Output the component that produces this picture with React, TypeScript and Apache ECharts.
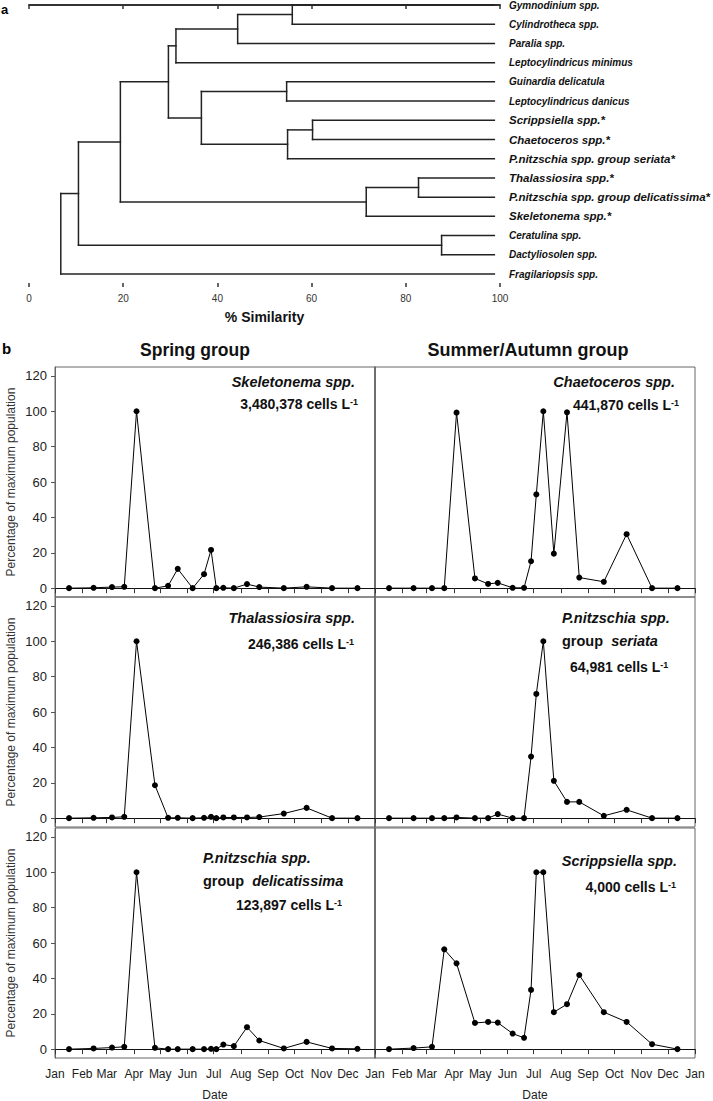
import React, { useEffect, useRef } from 'react';
import * as echarts from 'echarts';

// ---------- Part a: dendrogram ----------
const leafNames = [
  'Gymnodinium spp.', 'Cylindrotheca spp.', 'Paralia spp.', 'Leptocylindricus minimus',
  'Guinardia delicatula', 'Leptocylindricus danicus', 'Scrippsiella spp.*', 'Chaetoceros spp.*',
  'P.nitzschia spp. group seriata*', 'Thalassiosira spp.*', 'P.nitzschia spp. group delicatissima*',
  'Skeletonema spp.*', 'Ceratulina spp.', 'Dactyliosolen spp.', 'Fragilariopsis spp.',
];
// [left node, right node, % similarity]; nodes 0-14 are leaves, 15+ are these merges in order
const merges: [number, number, number][] = [
  [0, 1, 55.9], [15, 2, 44.3], [16, 3, 31.2], [4, 5, 54.7], [6, 7, 60.2], [19, 8, 54.9],
  [18, 20, 36.6], [17, 21, 29.6], [9, 10, 82.7], [23, 11, 71.6], [22, 24, 19.4],
  [12, 13, 87.6], [25, 26, 10.5], [27, 14, 6.75],
];
const LEAF_END = 98.8;

// ---------- Part b: time series ----------
const sampleDays = [16, 44, 65, 79, 93, 114, 129, 140, 157, 170, 178, 184, 192, 204, 219, 233, 261, 287, 316, 345];
const monthNames = ['Jan', 'Feb', 'Mar', 'Apr', 'May', 'Jun', 'Jul', 'Aug', 'Sep', 'Oct', 'Nov', 'Dec', 'Jan'];
const monthStarts = [0, 31, 59, 90, 120, 151, 181, 212, 243, 273, 304, 334, 365];
const yTicks = [0, 20, 40, 60, 80, 100, 120];

const skeletonema = [0, 0.2, 0.6, 0.75, 100, 0, 1.3, 10.9, 0, 7.9, 21.6, 0, 0.2, 0, 2.3, 0.6, 0, 0.75, 0, 0];
const chaetoceros = [0, 0, 0, 0, 99.2, 5.5, 2.4, 3.0, 0.2, 0.2, 15.2, 53, 100, 19.5, 99.4, 6.0, 3.6, 30.5, 0, 0];
const thalassiosira = [0, 0.2, 0.4, 0.75, 100, 18.6, 0.2, 0.2, 0, 0.2, 0.75, 0, 0.4, 0.4, 0.4, 0.6, 2.6, 5.8, 0, 0];
const seriata = [0, 0, 0, 0, 0.4, 0, 0, 2.3, 0, 0, 34.8, 70.2, 100, 21.1, 9.2, 9.2, 1.3, 4.7, 0, 0];
const delicatissima = [0, 0.4, 0.9, 1.3, 100, 0.75, 0, 0, 0, 0, 0.2, 0, 2.6, 1.7, 12.4, 4.9, 0.4, 4.1, 0.4, 0.2];
const scrippsiella = [0, 0.6, 1.3, 56.4, 48.5, 14.8, 15.4, 15.0, 8.8, 6.4, 33.5, 100, 100, 20.9, 25.4, 41.9, 20.9, 15.4, 2.8, 0];

const maxCells = ['3,480,378', '441,870', '246,386', '64,981', '123,897', '4,000'];
const columnTitles = ['Spring group', 'Summer/Autumn group'];

const SANS = '"Liberation Sans", Arial, sans-serif';

const colLeft = [55, 375];
const rowTop = [367, 597, 828];
const PW = 320;
const PH = 230;

function buildDendroSegments() {
  const pos: { x: number; y: number }[] = leafNames.map((_, i) => ({ x: LEAF_END, y: i }));
  const segs: number[][] = [];
  merges.forEach(([l, r, sim]) => {
    const a = pos[l];
    const b = pos[r];
    segs.push([a.x, a.y, sim, a.y]);
    segs.push([b.x, b.y, sim, b.y]);
    segs.push([sim, a.y, sim, b.y]);
    pos.push({ x: sim, y: (a.y + b.y) / 2 });
  });
  return segs;
}

function cellsText(x: number, y: number, count: string, align: string) {
  return {
    type: 'text',
    x,
    y,
    style: {
      text: `{n|${count} cells L}{s|-1}`,
      align,
      verticalAlign: 'middle',
      rich: {
        n: { fontFamily: SANS, fontWeight: 'bold', fontSize: 14, fill: '#111' },
        s: { fontFamily: SANS, fontWeight: 'bold', fontSize: 9, fill: '#111', verticalAlign: 'top' },
      },
    },
  };
}

function nameText(x: number, y: number, text: string, align: string) {
  return {
    type: 'text',
    x,
    y,
    style: {
      text,
      align,
      verticalAlign: 'middle',
      fontFamily: SANS,
      fontWeight: 'bold',
      fontStyle: 'italic',
      fontSize: 14.5,
      fill: '#111',
    },
  };
}

function groupText(x: number, y: number, word: string) {
  return {
    type: 'text',
    x,
    y,
    style: {
      text: `{g|group  }{i|${word}}`,
      align: 'left',
      verticalAlign: 'middle',
      rich: {
        g: { fontFamily: SANS, fontWeight: 'bold', fontSize: 14.5, fill: '#111' },
        i: { fontFamily: SANS, fontWeight: 'bold', fontStyle: 'italic', fontSize: 14.5, fill: '#111' },
      },
    },
  };
}

export default function App() {
  const ref = useRef<HTMLDivElement>(null);
  useEffect(() => {
    if (!ref.current) return;
    const chart = echarts.init(ref.current, undefined, { renderer: 'svg' });

    const panels = [
      { values: skeletonema, col: 0, row: 0 },
      { values: chaetoceros, col: 1, row: 0 },
      { values: thalassiosira, col: 0, row: 1 },
      { values: seriata, col: 1, row: 1 },
      { values: delicatissima, col: 0, row: 2 },
      { values: scrippsiella, col: 1, row: 2 },
    ];

    const grids: any[] = [
      { left: 29, top: 5, width: 471, height: 269, outerBoundsMode: 'none' },
    ];
    const xAxes: any[] = [
      {
        gridIndex: 0, type: 'value', min: 0, max: 100, interval: 20, position: 'bottom', offset: 13,
        axisLine: { lineStyle: { color: '#333', width: 2 } },
        axisTick: { length: 4, lineStyle: { color: '#333', width: 1.5 } },
        axisLabel: { fontSize: 10, color: '#333', fontFamily: SANS, margin: 6 },
        splitLine: { show: false },
        name: '% Similarity', nameLocation: 'middle', nameGap: 23,
        nameTextStyle: { fontFamily: SANS, fontWeight: 'bold', fontSize: 14, color: '#111' },
      },
      {
        gridIndex: 0, type: 'value', min: 0, max: 100, interval: 20, position: 'bottom', offset: 13,
        axisLine: { show: false },
        axisTick: { show: true, inside: true, length: 4, lineStyle: { color: '#333', width: 1.5 } },
        axisLabel: { show: false },
        splitLine: { show: false },
      },
    ];
    const yAxes: any[] = [
      { gridIndex: 0, type: 'value', min: 0, max: 14, inverse: true, show: false },
      {
        gridIndex: 0, type: 'category', data: leafNames, inverse: true, boundaryGap: false, position: 'right',
        axisLine: { show: false }, axisTick: { show: false }, splitLine: { show: false },
        axisLabel: {
          margin: 9,
          formatter: (v: string) => (v.endsWith('*') ? `{big|${v}}` : `{small|${v}}`),
          rich: {
            big: { fontFamily: SANS, fontWeight: 'bold', fontStyle: 'italic', fontSize: 11.5, color: '#111' },
            small: { fontFamily: SANS, fontWeight: 'bold', fontStyle: 'italic', fontSize: 10, color: '#111' },
          },
        },
      },
    ];
    const series: any[] = [
      {
        type: 'custom',
        xAxisIndex: 0,
        yAxisIndex: 0,
        data: buildDendroSegments(),
        encode: { x: [0, 2], y: [1, 3] },
        renderItem: (params: any, api: any) => {
          const p1 = api.coord([api.value(0), api.value(1)]);
          const p2 = api.coord([api.value(2), api.value(3)]);
          return {
            type: 'line',
            shape: { x1: p1[0], y1: p1[1], x2: p2[0], y2: p2[1] },
            style: { stroke: '#222', lineWidth: 1.5, lineCap: 'square' },
          };
        },
        silent: true,
      },
    ];

    panels.forEach((p, i) => {
      const gi = i + 1;
      const ai = i + 2;
      const bottomRow = p.row === 2;
      grids.push({
        left: colLeft[p.col], top: rowTop[p.row], width: PW, height: PH,
        show: true, borderColor: '#666', borderWidth: 1, outerBoundsMode: 'none',
      });
      const labelVals = p.col === 0 ? monthStarts.slice(0, 12) : monthStarts;
      xAxes.push({
        gridIndex: gi, type: 'value', min: 0, max: 365, position: 'bottom',
        axisLine: { lineStyle: { color: '#111', width: 1 } },
        axisTick: { show: true, customValues: monthStarts, length: 5, lineStyle: { color: '#333' } },
        axisLabel: {
          show: bottomRow, customValues: labelVals, fontSize: 12, color: '#222', fontFamily: SANS, margin: 10,
          formatter: (v: number) => monthNames[monthStarts.indexOf(v)] ?? '',
        },
        splitLine: { show: false },
        name: bottomRow ? 'Date' : '', nameLocation: 'middle', nameGap: 31,
        nameTextStyle: { fontSize: 12, color: '#222', fontFamily: SANS },
      });
      yAxes.push({
        gridIndex: gi, type: 'value', min: -5, max: 125, position: 'left',
        axisLine: { show: true, lineStyle: { color: '#666', width: p.col === 0 ? 1 : 1.5 } },
        axisTick: { show: p.col === 0, customValues: yTicks, length: 4, lineStyle: { color: '#555' } },
        axisLabel: { show: p.col === 0, customValues: yTicks, fontSize: 13, color: '#222', fontFamily: SANS, margin: 8 },
        splitLine: { show: false },
        name: p.col === 0 ? 'Percentage of maximum population' : '', nameLocation: 'middle', nameGap: 38,
        nameTextStyle: { fontSize: 12, color: '#333', fontFamily: SANS },
      });
      series.push({
        type: 'line',
        xAxisIndex: ai,
        yAxisIndex: ai,
        data: sampleDays.map((d, k) => [d, p.values[k]]),
        symbol: 'circle',
        symbolSize: 6,
        itemStyle: { color: '#000' },
        lineStyle: { color: '#000', width: 1 },
        silent: true,
      });
    });

    const graphics: any[] = [
      { type: 'text', x: 1, y: 9, style: { text: 'a', fontFamily: SANS, fontWeight: 'bold', fontSize: 13, fill: '#000', verticalAlign: 'middle' } },
      { type: 'text', x: 2, y: 348, style: { text: 'b', fontFamily: SANS, fontWeight: 'bold', fontSize: 15, fill: '#000', verticalAlign: 'middle' } },
      { type: 'text', x: 195, y: 350, style: { text: columnTitles[0], align: 'center', verticalAlign: 'middle', fontFamily: SANS, fontWeight: 'bold', fontSize: 17.5, fill: '#111' } },
      { type: 'text', x: 528, y: 350, style: { text: columnTitles[1], align: 'center', verticalAlign: 'middle', fontFamily: SANS, fontWeight: 'bold', fontSize: 18, fill: '#111' } },
      nameText(355, 382, 'Skeletonema spp.', 'right'),
      cellsText(358, 404, maxCells[0], 'right'),
      nameText(675, 382, 'Chaetoceros spp.', 'right'),
      cellsText(679, 405, maxCells[1], 'right'),
      nameText(355, 618, 'Thalassiosira spp.', 'right'),
      cellsText(354, 644, maxCells[2], 'right'),
      nameText(562, 618, 'P.nitzschia spp.', 'left'),
      groupText(562, 641, 'seriata'),
      cellsText(570, 667, maxCells[3], 'left'),
      nameText(203, 858, 'P.nitzschia spp.', 'left'),
      groupText(203, 881, 'delicatissima'),
      cellsText(236, 905, maxCells[4], 'left'),
      nameText(677, 861, 'Scrippsiella spp.', 'right'),
      cellsText(676, 887, maxCells[5], 'right'),
    ];

    chart.setOption({
      animation: false,
      backgroundColor: '#fff',
      grid: grids,
      xAxis: xAxes,
      yAxis: yAxes,
      series,
      graphic: graphics,
    });
    return () => chart.dispose();
  }, []);

  return (
    <div
      ref={ref}
      style={{ position: 'fixed', left: 0, top: 0, width: 713, height: 1101, background: '#fff' }}
    />
  );
}
